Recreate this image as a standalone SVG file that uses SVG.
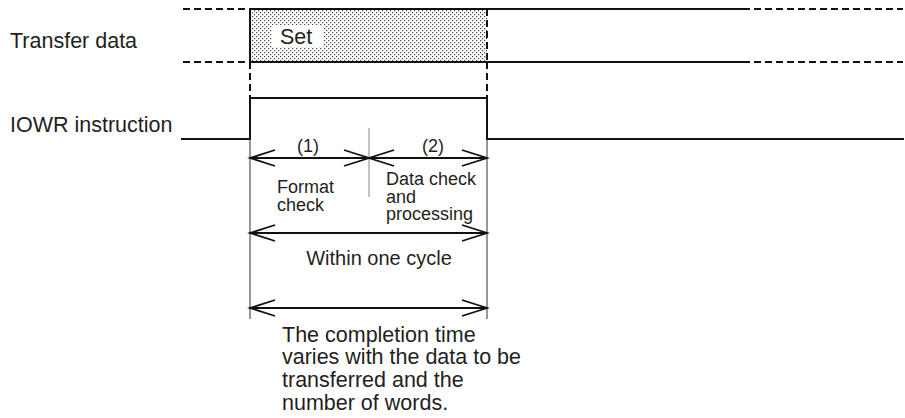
<svg xmlns="http://www.w3.org/2000/svg" width="905" height="418" viewBox="0 0 905 418">
  <defs>
    <pattern id="dots" width="4" height="4" patternUnits="userSpaceOnUse">
      <rect width="4" height="4" fill="#ffffff"/>
      <rect x="0" y="0" width="1.2" height="1.2" fill="#444"/>
      <rect x="2" y="2" width="1.2" height="1.2" fill="#444"/>
    </pattern>
    <marker id="open" viewBox="-27 -10 30 20" refX="0" refY="0" markerWidth="30" markerHeight="20" markerUnits="userSpaceOnUse" orient="auto-start-reverse">
      <path d="M-25,-8 L0,0 L-25,8" fill="none" stroke="#111" stroke-width="1.8"/>
    </marker>
  </defs>
  <style>
    text { font-family: "Liberation Sans", Arial, sans-serif; fill: #231f20; }
    .big { font-size: 21.5px; }
    .mid { font-size: 20px; }
    .small { font-size: 18px; }
    .sig { fill: none; stroke: #111; stroke-width: 2; }
    .dash { fill: none; stroke: #111; stroke-width: 2; stroke-dasharray: 7 4; }
    .thin { fill: none; stroke: #333; stroke-width: 1; }
    .arr { fill: none; stroke: #111; stroke-width: 2; marker-start: url(#open); marker-end: url(#open); }
  </style>
  <rect width="905" height="418" fill="#ffffff"/>

  <g id="transfer-data">
    <text class="big" x="10" y="48">Transfer data</text>
    <rect x="250" y="9" width="237" height="53" fill="url(#dots)"/>
    <rect x="272" y="25" width="51" height="22" fill="#ffffff"/>
    <text class="big" x="280" y="44">Set</text>
    <path class="dash" d="M183,9 H250 M743,9 H903 M183,62 H250 M743,62 H903"/>
    <path class="sig" d="M250,9 H743 M250,62 H743 M250,9 V62"/>
    <path class="dash" d="M487,9 V62" stroke-dasharray="5 3"/>
  </g>

  <g id="iowr-instruction">
    <text class="big" x="10" y="132">IOWR instruction</text>
    <path class="sig" d="M181,139 H250 V98 H487 V139 H904"/>
  </g>

  <g id="connectors">
    <path class="dash" d="M250,62 V98 M487,62 V98" stroke-dasharray="7 4"/>
    <path class="thin" d="M250,139 V319 M487,139 V319"/>
    <path d="M369,128 V197" fill="none" stroke="#999" stroke-width="1.2"/>
    <path class="arr" d="M250,158 H369"/>
    <path class="arr" d="M369,158 H487"/>
    <path class="arr" d="M250,233 H487"/>
    <path class="arr" d="M250,308 H487"/>
  </g>

  <g id="phase-1">
    <text class="small" x="308" y="152" text-anchor="middle">(1)</text>
    <text class="small" x="277" y="193">Format</text>
    <text class="small" x="277" y="211">check</text>
  </g>

  <g id="phase-2">
    <text class="small" x="386" y="152" dx="47" text-anchor="middle">(2)</text>
    <text class="small" x="386" y="185">Data check</text>
    <text class="small" x="386" y="203">and</text>
    <text class="small" x="386" y="220">processing</text>
  </g>

  <g id="cycle">
    <text class="mid" x="379" y="265" text-anchor="middle">Within one cycle</text>
  </g>

  <g id="completion-note">
    <text class="big" x="282" y="342">The completion time</text>
    <text class="big" x="282" y="364">varies with the data to be</text>
    <text class="big" x="282" y="387">transferred and the</text>
    <text class="big" x="282" y="410">number of words.</text>
  </g>
</svg>
